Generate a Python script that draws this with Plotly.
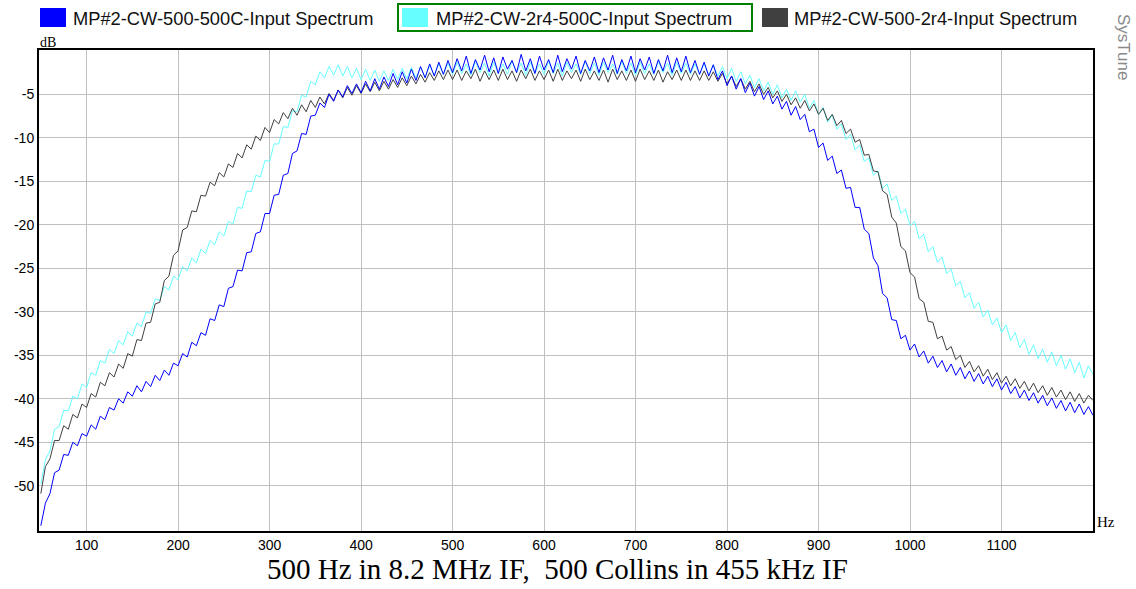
import plotly.graph_objects as go

# ---------------- data (every 5 Hz) ----------------
freq_hz = list(range(50, 1201, 5))

blue_500_500c = [
    -54.6, -52.0, -50.9, -48.5, -48.2, -46.4, -46.5, -45.0, -45.4, -44.0,
    -44.3, -43.0, -43.5, -42.0, -42.4, -41.0, -41.3, -40.0, -40.5, -39.2,
    -39.7, -38.5, -39.2, -38.0, -38.6, -37.3, -37.9, -36.7, -37.3, -35.9,
    -36.2, -34.8, -35.2, -33.5, -33.9, -32.4, -32.7, -30.8, -31.0, -29.2,
    -29.4, -27.3, -27.1, -25.2, -25.3, -23.2, -23.1, -21.0, -20.8, -18.7,
    -18.7, -16.6, -16.5, -14.3, -14.1, -11.8, -11.5, -9.5, -9.6, -7.5,
    -7.4, -6.0, -6.5, -5.0, -5.8, -4.5, -5.3, -4.0, -4.9, -3.8,
    -4.8, -3.5, -4.6, -3.2, -4.4, -3.0, -4.1, -2.6, -3.9, -2.4,
    -3.7, -2.1, -3.4, -1.8, -3.1, -1.5, -2.9, -1.3, -2.7, -1.1,
    -2.5, -0.9, -2.3, -0.6, -2.6, -1.0, -2.2, -0.5, -2.4, -0.8,
    -2.6, -0.7, -2.1, -1.1, -2.5, -0.4, -2.3, -0.9, -2.6, -0.6,
    -2.2, -1.0, -2.5, -0.5, -2.4, -0.9, -2.1, -0.6, -2.6, -1.1,
    -2.3, -0.7, -2.5, -0.8, -2.2, -0.5, -2.6, -1.0, -2.3, -0.6,
    -2.5, -0.9, -2.2, -0.7, -2.6, -1.0, -2.3, -0.5, -2.5, -0.8,
    -2.4, -0.6, -2.5, -1.1, -2.7, -1.3, -2.9, -1.6, -3.3, -2.3,
    -4.0, -2.9, -4.4, -3.2, -4.8, -3.7, -5.2, -4.1, -5.6, -4.6,
    -6.1, -5.2, -6.7, -5.8, -7.4, -6.4, -7.9, -7.3, -9.3, -9.0,
    -11.1, -10.6, -12.6, -12.1, -14.1, -13.7, -15.8, -15.7, -18.0, -18.0,
    -20.5, -21.0, -23.8, -24.7, -27.9, -28.4, -30.9, -31.0, -33.1, -32.7,
    -34.4, -33.7, -35.2, -34.5, -35.9, -35.1, -36.4, -35.6, -36.9, -36.0,
    -37.3, -36.4, -37.7, -36.8, -38.0, -37.1, -38.3, -37.4, -38.6, -37.7,
    -39.0, -38.1, -39.4, -38.6, -39.9, -39.0, -40.2, -39.3, -40.5, -39.6,
    -40.8, -39.9, -41.1, -40.2, -41.4, -40.4, -41.6, -40.6, -41.8, -40.9,
    -41.9,
]

cyan_2r4_500c = [
    -49.8, -47.0, -46.0, -43.5, -43.2, -41.3, -41.4, -39.7, -40.0, -38.3,
    -38.7, -37.0, -37.3, -35.6, -35.9, -34.3, -34.8, -33.3, -33.8, -32.3,
    -32.8, -31.3, -31.7, -30.0, -30.2, -28.5, -28.7, -27.1, -27.5, -25.9,
    -26.3, -24.8, -25.3, -23.8, -24.4, -22.8, -23.3, -21.8, -22.3, -20.8,
    -21.3, -19.6, -19.9, -18.0, -18.1, -16.1, -16.2, -14.3, -14.5, -12.6,
    -12.7, -10.7, -10.7, -8.7, -8.8, -6.9, -7.0, -5.1, -5.3, -3.5,
    -3.9, -2.4, -3.1, -1.8, -2.8, -1.6, -2.9, -1.8, -3.1, -2.0,
    -3.3, -2.1, -3.4, -2.2, -3.5, -2.3, -3.4, -2.1, -3.3, -2.0,
    -3.2, -1.9, -3.1, -1.9, -3.0, -1.7, -2.8, -1.5, -2.7, -1.4,
    -2.7, -1.3, -2.6, -1.5, -2.8, -1.2, -2.5, -1.4, -2.9, -1.3,
    -2.6, -1.5, -2.7, -1.2, -2.5, -1.4, -2.8, -1.3, -2.6, -1.5,
    -2.7, -1.2, -2.6, -1.4, -2.9, -1.3, -2.5, -1.5, -2.7, -1.2,
    -2.6, -1.4, -2.8, -1.3, -2.5, -1.5, -2.7, -1.2, -2.6, -1.4,
    -2.8, -1.3, -2.6, -1.5, -2.7, -1.2, -2.5, -1.4, -2.8, -1.3,
    -2.6, -1.4, -2.7, -1.5, -2.7, -1.5, -2.8, -1.6, -2.9, -1.8,
    -3.2, -2.0, -3.5, -2.4, -3.8, -2.8, -4.2, -3.2, -4.6, -3.6,
    -5.0, -3.9, -5.4, -4.4, -5.7, -4.6, -5.9, -5.0, -6.6, -5.7,
    -7.3, -6.5, -8.2, -7.4, -9.0, -8.4, -10.2, -9.6, -11.4, -10.8,
    -12.7, -12.3, -14.3, -13.8, -15.8, -15.3, -17.2, -16.7, -18.7, -18.2,
    -20.1, -19.6, -21.6, -21.1, -23.1, -22.5, -24.3, -23.7, -25.6, -25.1,
    -27.0, -26.5, -28.4, -27.8, -29.6, -28.9, -30.6, -29.8, -31.5, -30.7,
    -32.4, -31.5, -33.3, -32.4, -34.1, -33.2, -34.9, -33.8, -35.4, -34.3,
    -35.8, -34.6, -36.2, -35.0, -36.6, -35.4, -37.0, -35.8, -37.6, -36.2,
    -37.2,
]

gray_500_2r4 = [
    -50.9, -47.8, -46.9, -44.8, -44.8, -43.1, -43.5, -41.8, -42.2, -40.6,
    -41.0, -39.4, -39.8, -38.1, -38.5, -37.0, -37.5, -36.0, -36.5, -34.8,
    -35.1, -33.2, -33.3, -31.3, -31.2, -29.1, -28.9, -26.4, -25.9, -23.5,
    -23.0, -20.6, -20.3, -18.4, -18.5, -16.6, -16.7, -15.1, -15.5, -14.0,
    -14.5, -13.0, -13.4, -11.8, -12.3, -10.8, -11.3, -9.8, -10.3, -8.8,
    -9.4, -7.9, -8.4, -7.1, -7.8, -6.6, -7.4, -6.2, -7.0, -5.7,
    -6.5, -5.3, -6.1, -4.9, -5.7, -4.5, -5.4, -4.2, -5.1, -4.0,
    -4.9, -3.8, -4.7, -3.6, -4.6, -3.5, -4.4, -3.3, -4.2, -3.1,
    -4.0, -2.9, -3.8, -2.7, -3.6, -2.5, -3.4, -2.3, -3.3, -2.2,
    -3.3, -2.2, -3.4, -2.3, -3.2, -2.1, -3.5, -2.3, -3.3, -2.2,
    -3.4, -2.1, -3.3, -2.3, -3.5, -2.2, -3.2, -2.1, -3.4, -2.3,
    -3.3, -2.2, -3.5, -2.1, -3.4, -2.3, -3.2, -2.2, -3.5, -2.1,
    -3.3, -2.3, -3.4, -2.2, -3.6, -2.1, -3.3, -2.3, -3.4, -2.2,
    -3.5, -2.1, -3.3, -2.3, -3.4, -2.2, -3.6, -2.4, -3.3, -2.2,
    -3.4, -2.2, -3.4, -2.3, -3.4, -2.3, -3.4, -2.4, -3.5, -2.6,
    -3.8, -2.9, -4.1, -3.2, -4.4, -3.5, -4.7, -3.8, -5.0, -4.2,
    -5.4, -4.6, -5.8, -5.0, -6.2, -5.4, -6.6, -5.7, -6.9, -6.1,
    -7.3, -6.6, -8.0, -7.3, -8.6, -8.0, -9.5, -9.0, -10.5, -10.2,
    -12.0, -11.9, -13.8, -13.9, -16.1, -16.5, -19.1, -19.8, -22.5, -23.0,
    -25.5, -26.0, -28.5, -28.9, -31.1, -31.2, -33.1, -32.8, -34.4, -34.0,
    -35.5, -35.0, -36.4, -35.7, -36.9, -36.2, -37.4, -36.6, -37.8, -37.0,
    -38.2, -37.4, -38.5, -37.7, -38.8, -38.0, -39.1, -38.2, -39.3, -38.5,
    -39.6, -38.7, -39.8, -39.0, -40.1, -39.2, -40.3, -39.4, -40.5, -39.6,
    -40.2,
]

series_names = [
    "MP#2-CW-500-500C-Input Spectrum",
    "MP#2-CW-2r4-500C-Input Spectrum",
    "MP#2-CW-500-2r4-Input Spectrum",
]
x_ticks = [100, 200, 300, 400, 500, 600, 700, 800, 900, 1000, 1100]
y_ticks = [-5, -10, -15, -20, -25, -30, -35, -40, -45, -50]
caption = "500 Hz in 8.2 MHz IF,  500 Collins in 455 kHz IF"

# ---------------- styling ----------------
W, H = 1136, 589
L, R, T, B = 39, 1093, 50, 531
BLUE, CYAN, GRAY = "#0000FF", "#66FFFF", "#404040"


def px(xp):
    return (xp - L) / (R - L)


def py(yp):
    return (B - yp) / (B - T)


fig = go.Figure()
for name, ys, col in [
    (series_names[1], cyan_2r4_500c, CYAN),
    (series_names[2], gray_500_2r4, GRAY),
    (series_names[0], blue_500_500c, BLUE),
]:
    fig.add_trace(go.Scatter(x=freq_hz, y=ys, mode="lines", name=name,
                             line=dict(color=col, width=1), showlegend=False))

shapes = []
annotations = []

# custom legend
legend_items = [
    (series_names[0], BLUE, 40, 71),
    (series_names[1], CYAN, 402, 434),
    (series_names[2], GRAY, 762, 792),
]
for name, col, sx, tx in legend_items:
    shapes.append(dict(type="rect", xref="paper", yref="paper",
                       x0=px(sx), x1=px(sx + 26), y0=py(27), y1=py(8),
                       fillcolor=col, line=dict(width=0)))
    annotations.append(dict(text=name, xref="paper", yref="paper",
                            x=px(tx), y=py(18), xanchor="left", yanchor="middle",
                            showarrow=False,
                            font=dict(family="Liberation Sans, Arial", size=18.3, color="#111111")))
shapes.append(dict(type="rect", xref="paper", yref="paper",
                   x0=px(398), x1=px(752), y0=py(31), y1=py(4),
                   line=dict(color="#008000", width=2), fillcolor="rgba(0,0,0,0)"))

annotations += [
    dict(text="SysTune", xref="paper", yref="paper", x=px(1123), y=py(47),
         textangle=90, showarrow=False, xanchor="center", yanchor="middle",
         font=dict(family="Liberation Sans, Arial", size=17, color="#8a8a8a")),
    dict(text="dB", xref="paper", yref="paper", x=px(38), y=py(43),
         xanchor="left", yanchor="middle", showarrow=False,
         font=dict(family="Liberation Serif, Times New Roman", size=14, color="black")),
    dict(text="Hz", xref="paper", yref="paper", x=px(1095), y=py(522),
         xanchor="left", yanchor="middle", showarrow=False,
         font=dict(family="Liberation Serif, Times New Roman", size=15, color="black")),
    dict(text=caption, xref="paper", yref="paper", x=px(557), y=py(569),
         xanchor="center", yanchor="middle", showarrow=False,
         font=dict(family="Liberation Serif, Times New Roman", size=29, color="black")),
]

axis_font = dict(family="Liberation Sans, Arial", size=14, color="black")
fig.update_layout(
    width=W, height=H, autosize=False,
    margin=dict(l=L, r=W - R, t=T, b=H - B, pad=0),
    paper_bgcolor="white", plot_bgcolor="white",
    shapes=shapes, annotations=annotations,
    xaxis=dict(range=[48, 1200], tickvals=x_ticks, ticktext=[str(v) for v in x_ticks],
               showgrid=True, gridcolor="#C0C0C0", gridwidth=1.2, zeroline=False,
               showline=True, linecolor="black", linewidth=2, mirror=True,
               ticks="", tickfont=axis_font, ticklabelstandoff=0),
    yaxis=dict(range=[-55.2, 0.1], tickvals=y_ticks, ticktext=[str(v) for v in y_ticks],
               showgrid=True, gridcolor="#C0C0C0", gridwidth=1.2, zeroline=False,
               showline=True, linecolor="black", linewidth=2, mirror=True,
               ticks="", tickfont=axis_font, ticklabelstandoff=0),
)

fig.write_html("out.html", config={"displayModeBar": False},
               post_script="document.body.style.margin='0';")
